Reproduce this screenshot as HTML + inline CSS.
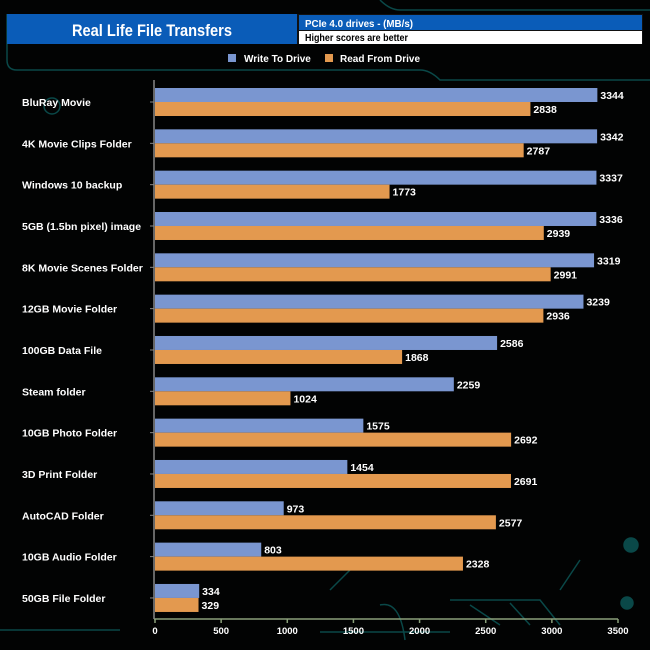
<!DOCTYPE html>
<html><head><meta charset="utf-8"><style>
body{margin:0;background:#000;}
svg{display:block;font-family:"Liberation Sans",Arial,sans-serif;font-weight:bold;}
</style></head><body>
<svg id="chart" width="650" height="650" viewBox="0 0 650 650" xmlns="http://www.w3.org/2000/svg">
<rect width="650" height="650" fill="#020303"/>
<g stroke="#0c5a5a" stroke-width="1.5" fill="none" opacity="0.8">
<path d="M7 14 V60 Q7 70 17 70 H420 Q430 70 440 80 H650"/>
<path d="M380 0 Q390 10 400 10 H650"/>
<path d="M330 590 L360 560 H420 M380 605 Q400 600 405 640 M560 590 L580 560"/>
<path d="M450 600 H540 L560 625 M470 605 L500 625 M510 603 L530 625"/>
<path d="M0 630 H120 M320 632 H450"/>
<circle cx="631" cy="545" r="7" fill="#0c5a5a"/><circle cx="627" cy="603" r="6" fill="#0c5a5a"/>
<circle cx="52" cy="106" r="8"/>
</g>
<rect x="7" y="14" width="290" height="30" fill="#0a5cb8"/>
<text x="72" y="36" fill="#fff" font-size="17" textLength="160" lengthAdjust="spacingAndGlyphs">Real Life File Transfers</text>
<rect x="297" y="14" width="346" height="30" fill="#111"/>
<rect x="299" y="15" width="343" height="15" fill="#0a5cb8"/>
<rect x="299" y="31" width="343" height="13" fill="#fff"/>
<text x="305" y="27" fill="#fff" font-size="10.5" textLength="108" lengthAdjust="spacingAndGlyphs">PCIe 4.0 drives - (MB/s)</text>
<text x="305" y="41" fill="#000" font-size="10.5" textLength="103" lengthAdjust="spacingAndGlyphs">Higher scores are better</text>
<g font-size="10" fill="#fff">
<rect x="228" y="54" width="8" height="8" fill="#7a96d0"/>
<text x="244" y="62">Write To  Drive</text>
<rect x="325" y="54" width="8" height="8" fill="#e3994f"/>
<text x="340" y="62">Read From  Drive</text>
</g>
<g id="plot"></g>
</svg>
<script>
const categories=["BluRay Movie","4K Movie Clips Folder","Windows 10 backup","5GB (1.5bn pixel) image","8K Movie Scenes Folder","12GB Movie Folder","100GB Data File","Steam folder","10GB Photo Folder","3D Print Folder","AutoCAD Folder","10GB Audio Folder","50GB File Folder"];
const writeValues=[3344,3342,3337,3336,3319,3239,2586,2259,1575,1454,973,803,334];
const readValues=[2838,2787,1773,2939,2991,2936,1868,1024,2692,2691,2577,2328,329];
const xTicks=[0,500,1000,1500,2000,2500,3000,3500];
const NS="http://www.w3.org/2000/svg";
const g=document.getElementById('plot');
const x0=155,x1=618,xMax=3500,yTop=88,step=41.33,bh=14,axisY=619;
const xs=v=>x0+(x1-x0)*v/xMax;
const ys=i=>yTop+i*step;
function mk(t,a){const e=document.createElementNS(NS,t);for(const k in a)e.setAttribute(k,a[k]);g.appendChild(e);return e;}
const ax=mk('line',{x1:x0-1,y1:axisY,x2:x1,y2:axisY,stroke:'#8aa07a','stroke-width':1.5});


const ay=mk('line',{x1:x0-1,y1:80,x2:x0-1,y2:axisY,stroke:'#888','stroke-width':1.5});


xTicks.forEach(t=>{
 const l=mk('line',{x1:xs(t),y1:axisY,x2:xs(t),y2:axisY+4,stroke:'#8aa07a','stroke-width':1.5});
 
 
 const tx=mk('text',{x:xs(t),y:axisY+15,fill:'#fff','font-size':9.5,'text-anchor':'middle'});
 tx.textContent=t;
 
 
});
categories.forEach((c,i)=>{
 const y=ys(i);
 const cl=mk('text',{x:22,y:y+18,fill:'#fff','font-size':10.5});
 cl.textContent=c;
 
 
 const tk=mk('line',{x1:x0-5,y1:y+bh,x2:x0-1,y2:y+bh,stroke:'#888'});
 
 
 [[writeValues[i],'#7a96d0',y,'bar-write'],[readValues[i],'#e3994f',y+bh,'bar-read']].forEach(([v,col,yy,nm])=>{
  const r=mk('rect',{x:x0,y:yy,width:xs(v)-x0,height:bh,fill:col});
  
  
  const t=mk('text',{x:xs(v)+3,y:yy+11,fill:'#fff','font-size':10.5});
  t.textContent=v;
  
  
 });
});
</script>
</body></html>
